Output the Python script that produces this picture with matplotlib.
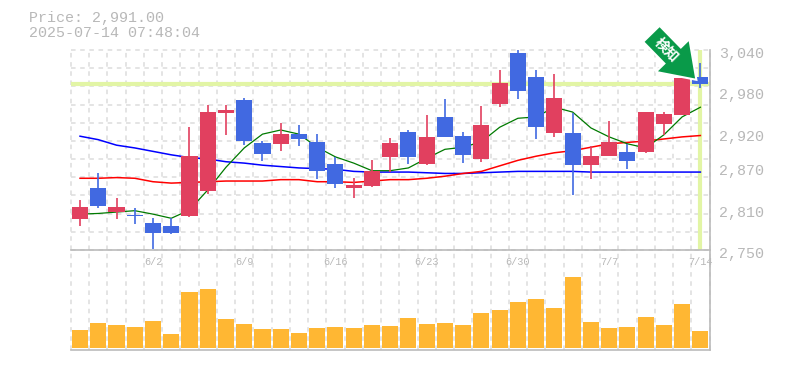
import matplotlib
matplotlib.use('Agg')
import matplotlib.pyplot as plt
from matplotlib.patches import FancyArrow
from matplotlib.transforms import IdentityTransform

# values
dates = ['6/2', '6/9', '6/16', '6/23', '6/30', '7/7', '7/14']
date_pos = [4, 9, 14, 19, 24, 29, 34]
price_ticks = [3040, 2980, 2920, 2870, 2810, 2750]

opens = [2795, 2840, 2805, 2800, 2789, 2785, 2799, 2836, 2949, 2968, 2905, 2904, 2918, 2907, 2875,
         2840, 2843, 2885, 2921, 2875, 2943, 2915, 2882, 2962, 3036, 3001, 2920, 2920, 2873, 2886, 2892,
         2892, 2933, 2946, 3001]
highs = [2822, 2862, 2825, 2811, 2796, 2796, 2928, 2960, 2960, 2970, 2908, 2934, 2931, 2918, 2885,
         2854, 2880, 2912, 2924, 2946, 2969, 2921, 2959, 3011, 3040, 3011, 3005, 2949, 2901, 2937, 2904,
         2950, 2950, 2999, 3021]
lows = [2785, 2811, 2795, 2788, 2751, 2773, 2798, 2831, 2917, 2902, 2879, 2894, 2901, 2853, 2840,
        2825, 2841, 2863, 2875, 2873, 2914, 2876, 2878, 2957, 2969, 2911, 2914, 2830, 2853, 2886, 2867,
        2891, 2917, 2946, 2985]
closes = [2812, 2814, 2812, 2799, 2775, 2775, 2886, 2950, 2953, 2908, 2889, 2918, 2911, 2865, 2846,
          2844, 2865, 2905, 2885, 2914, 2914, 2888, 2931, 2992, 2981, 2928, 2970, 2873, 2886, 2907, 2879,
          2950, 2947, 2999, 2991]
ma5 = [2802, 2803, 2805, 2807, 2802, 2796, 2808, 2837, 2870, 2898, 2918, 2924, 2918, 2899, 2885,
       2876, 2865, 2865, 2869, 2883, 2896, 2899, 2907, 2928, 2941, 2943, 2957, 2950, 2927, 2914, 2904,
       2898, 2917, 2943, 2957]
ma25 = [2854, 2854, 2855, 2854, 2849, 2847, 2848, 2849, 2850, 2850, 2850, 2852, 2852, 2849, 2849,
        2848, 2850, 2852, 2852, 2854, 2857, 2861, 2864, 2872, 2880, 2886, 2891, 2894, 2899, 2904, 2906,
        2908, 2911, 2914, 2916]
ma75 = [2915, 2910, 2902, 2898, 2893, 2888, 2884, 2882, 2878, 2876, 2873, 2871, 2869, 2868, 2867,
        2864, 2863, 2863, 2863, 2862, 2861, 2861, 2862, 2863, 2864, 2864, 2864, 2864, 2863, 2863, 2863,
        2863, 2863, 2863, 2863]
volume = [18, 25, 23, 21, 27, 14, 56, 59, 29, 24, 19, 19, 15, 20, 21, 20, 23, 22, 30, 24, 25, 23, 35, 38,
          46, 49, 40, 71, 26, 20, 21, 31, 23, 44, 17]
last_price = 2991.00
stamp = '2025-07-14 07:48:04'

RED = '#e1405f'
BLUE = '#4169e1'
GRID = '#dddddd'
EDGE = '#bbbbbb'
LABEL = '#b8b8b8'
LIME = '#e2f5a5'
ARROW = '#099a49'
MONO = 'Liberation Mono'

W, H = 785.0, 370.0
L, R = 70.9, 709.5
fig = plt.figure(figsize=(W / 100, H / 100), dpi=100)
ax = fig.add_axes([L / W, 1 - 250 / H, (R - L) / W, 200 / H])
vax = fig.add_axes([L / W, 1 - 350 / H, (R - L) / W, 100 / H], sharex=ax)

xs = list(range(len(closes)))
ax.set_xlim(-0.5, 34.5)
ax.set_ylim(2750, 3040)
vax.set_ylim(-2, 98)

for a in (ax, vax):
    for k in range(36):
        a.axvline(k - 0.5, color=GRID, lw=1.1, ls=(0, (3, 3)), zorder=0, clip_on=False)
    for s in a.spines.values():
        s.set_visible(False)
    a.spines['bottom'].set_visible(True)
    a.spines['right'].set_visible(True)
    a.spines['bottom'].set_color(EDGE)
    a.spines['right'].set_color(EDGE)
    a.spines['bottom'].set_linewidth(1.2)
    a.spines['right'].set_linewidth(1.2)
    a.patch.set_alpha(0)

for k in range(0, 12):
    ax.axhline(2750 + k * 290 / 11.0, color=GRID, lw=1.1, ls=(0, (3, 3)), zorder=0, clip_on=False)

ax.axhline(last_price, color=LIME, lw=3, zorder=1)
ax.axvline(xs[-1], color=LIME, lw=3, zorder=1)

ax.plot(xs, ma75, color='#0000ff', lw=1.1, zorder=2)
ax.plot(xs, ma25, color='#ff0000', lw=1.1, zorder=2)
ax.plot(xs, ma5, color='#007a00', lw=0.9, zorder=2)

for x, o, h, l, c in zip(xs, opens, highs, lows, closes):
    col = RED if c >= o else BLUE
    ax.plot([x, x], [l, h], color=col, lw=1.2, zorder=3, solid_capstyle='butt')
    ax.bar(x, max(abs(c - o), 1.5), bottom=min(o, c), width=0.88, color=col, zorder=4)

vax.bar(xs, volume, width=0.88, color='#ffb733', zorder=3)

ax.set_yticks([])
ax.tick_params(axis='x', length=0, labelbottom=False)
vax.set_yticks([])
vax.tick_params(axis='x', length=0, labelbottom=False)
for p in price_ticks:
    ax.annotate(f'{p:,}', (1, p), xycoords=('axes fraction', 'data'), xytext=(10, -4),
                textcoords='offset pixels', ha='left', va='center',
                family=MONO, fontsize=10.8, color=LABEL, annotation_clip=False)
for p, d in zip(date_pos, dates):
    vax.annotate(d, (p, 98), xytext=(0, -12), textcoords='offset pixels', ha='center', va='center',
                 family=MONO, fontsize=7.4, color=LABEL, zorder=6)

fig.text(29 / W, 1 - 18 / H, f'Price: {last_price:,.2f}', family=MONO, fontsize=10.8, color=LABEL, va='center')
fig.text(29 / W, 1 - 33 / H, stamp, family=MONO, fontsize=10.8, color=LABEL, va='center')

# arrow pointing at the last candle
tip_x, tip_y = ax.transData.transform((xs[-1], last_price))
tip_x, tip_y = tip_x - 4, tip_y + 4
arrow = FancyArrow(tip_x - 45, tip_y + 46, 45, -46, width=23, head_width=47, head_length=34,
                   length_includes_head=True, fc=ARROW, ec='white', lw=1.5,
                   transform=IdentityTransform(), zorder=8)
fig.add_artist(arrow)
fig.text((tip_x - 30) / W, (tip_y + 30) / H, '検知', rotation=-45, ha='center', va='center',
         rotation_mode='anchor', color='white', fontsize=10, fontweight='bold',
         family=['Noto Sans CJK JP', 'DejaVu Sans'], zorder=9)

fig.savefig('out.png', dpi=100)
